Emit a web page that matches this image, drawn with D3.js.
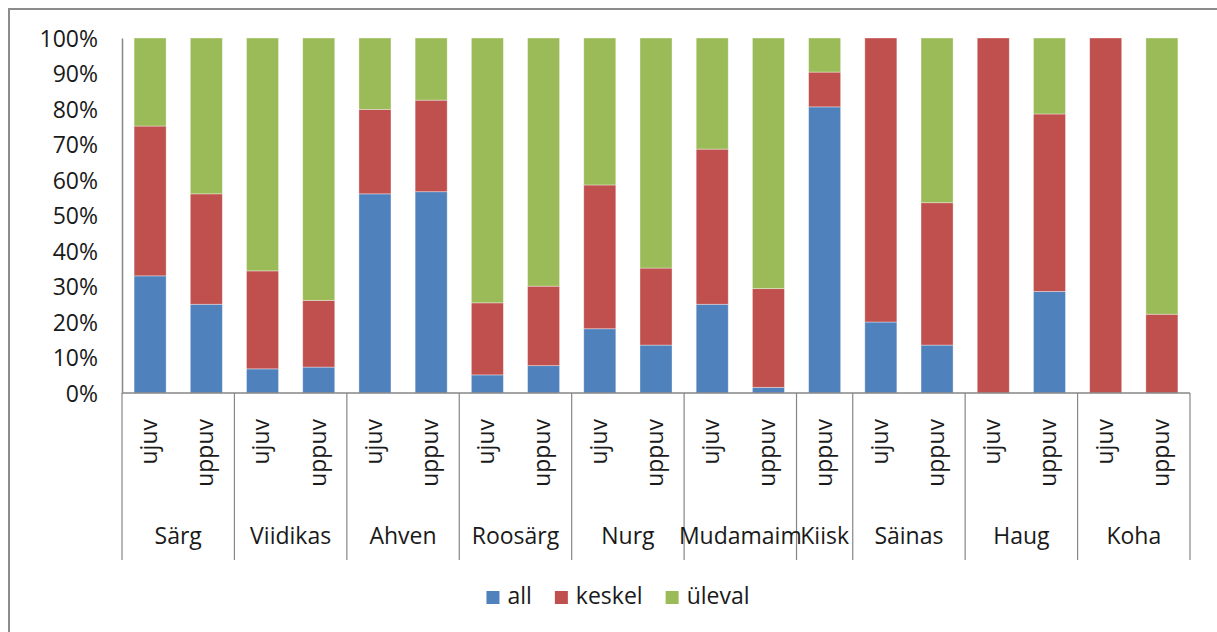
<!DOCTYPE html>
<html>
<head>
<meta charset="utf-8">
<script src="https://cdn.jsdelivr.net/npm/d3@7"></script>
<style>
  html, body { margin: 0; padding: 0; background: #fff; }
  svg { display: block; font-family: "Open Sans", "Noto Sans", sans-serif; }
</style>
</head>
<body>
<svg id="chart" width="1217" height="632"></svg>
<script>
// Species (groups) and the net type of each bar, in drawing order
const species = ["Särg", "Särg", "Viidikas", "Viidikas", "Ahven", "Ahven", "Roosärg", "Roosärg",
                 "Nurg", "Nurg", "Mudamaim", "Mudamaim", "Kiisk", "Säinas", "Säinas",
                 "Haug", "Haug", "Koha", "Koha"];
const netTypes = ["ujuv", "uppuv", "ujuv", "uppuv", "ujuv", "uppuv", "ujuv", "uppuv",
                  "ujuv", "uppuv", "ujuv", "uppuv", "uppuv", "ujuv", "uppuv",
                  "ujuv", "uppuv", "ujuv", "uppuv"];

// Share of catch by depth layer, percent
const seriesNames = ["all", "keskel", "üleval"];
const allValues    = [33.0, 25.0, 6.8, 7.3, 56.1, 56.7, 5.1, 7.7, 18.1, 13.5, 25.0, 1.6, 80.6, 20.0, 13.5, 0, 28.6, 0, 0];
const keskelValues = [42.2, 31.1, 27.6, 18.8, 23.8, 25.8, 20.3, 22.4, 40.5, 21.7, 43.7, 27.8, 9.8, 80.0, 40.1, 100, 50.0, 100, 22.2];
const ulevalValues = [24.8, 43.9, 65.6, 73.9, 20.1, 17.5, 74.6, 69.9, 41.4, 64.8, 31.3, 70.6, 9.6, 0, 46.4, 0, 21.4, 0, 77.8];

const yTicks = [0, 10, 20, 30, 40, 50, 60, 70, 80, 90, 100];
const colors = ["#4F81BD", "#C0504D", "#9BBB59"];

const svg = d3.select("#chart");
const FONT = 23;

// Outer chart frame
svg.append("path")
  .attr("d", "M9,640 V9 H1230")
  .attr("fill", "none")
  .attr("stroke", "#8c8c8c")
  .attr("stroke-width", 2);

const plotLeft = 122, plotRight = 1190, plotTop = 38, plotBottom = 393;

const rows = species.map((s, i) => ({
  key: i, species: s, net: netTypes[i],
  all: allValues[i], keskel: keskelValues[i], "üleval": ulevalValues[i]
}));

const x = d3.scaleBand()
  .domain(rows.map(d => d.key))
  .range([plotLeft, plotRight])
  .paddingInner(0.43)
  .paddingOuter(0.215);

const y = d3.scaleLinear().domain([0, 100]).range([plotBottom, plotTop]);

// Normalise each bar so it fills 100 %
const normRows = rows.map(d => {
  const t = d.all + d.keskel + d["üleval"];
  return { key: d.key, all: d.all / t * 100, keskel: d.keskel / t * 100, "üleval": d["üleval"] / t * 100 };
});
const stacked = d3.stack().keys(seriesNames)(normRows);

// Bars
svg.append("g").selectAll("g")
  .data(stacked)
  .join("g")
  .attr("fill", (d, i) => colors[i])
  .selectAll("rect")
  .data(d => d.filter(p => p[1] - p[0] > 0))
  .join("rect")
  .attr("x", p => x(p.data.key))
  .attr("width", x.bandwidth())
  .attr("y", p => y(p[1]))
  .attr("height", p => y(p[0]) - y(p[1]))
  .attr("stroke", "#ffffff")
  .attr("stroke-opacity", 0.45)
  .attr("stroke-width", 0.8);

// Y axis
const yAxis = svg.append("g")
  .attr("transform", `translate(${plotLeft},0)`)
  .call(d3.axisLeft(y).tickValues(yTicks).tickSize(0).tickPadding(24).tickFormat(v => v + "%"));
yAxis.select(".domain").attr("stroke", "#868686").attr("stroke-width", 1.5);
yAxis.selectAll("text")
  .attr("font-size", FONT)
  .attr("font-family", "Open Sans")
  .attr("fill", "#1a1a1a")
  .attr("dy", "0.36em");

// X axis baseline
svg.append("line")
  .attr("x1", plotLeft).attr("x2", plotRight)
  .attr("y1", plotBottom).attr("y2", plotBottom)
  .attr("stroke", "#868686").attr("stroke-width", 1.5);

// Group separators below the axis
const groups = [];
rows.forEach(d => {
  const g = groups.find(e => e.name === d.species);
  if (g) g.keys.push(d.key); else groups.push({ name: d.species, keys: [d.key] });
});
const step = x.step();
const slotStart = k => x(k) - x.paddingOuter() * step;
const edges = [plotLeft].concat(groups.map(g => slotStart(g.keys[g.keys.length - 1]) + step));
svg.append("g").selectAll("line")
  .data(edges)
  .join("line")
  .attr("x1", d => d).attr("x2", d => d)
  .attr("y1", plotBottom).attr("y2", 560)
  .attr("stroke", "#868686").attr("stroke-width", 1.2);

// Net type labels (rotated)
svg.append("g").selectAll("text")
  .data(rows)
  .join("text")
  .attr("transform", d => `translate(${x(d.key) + x.bandwidth() / 2},419) rotate(-90)`)
  .attr("text-anchor", "end")
  .attr("dy", "0.3em")
  .attr("font-size", FONT)
  .attr("fill", "#1a1a1a")
  .text(d => d.net);

// Species labels
svg.append("g").selectAll("text")
  .data(groups)
  .join("text")
  .attr("x", g => {
    const a = slotStart(g.keys[0]);
    const b = slotStart(g.keys[g.keys.length - 1]) + step;
    return (a + b) / 2;
  })
  .attr("y", 544)
  .attr("text-anchor", "middle")
  .attr("font-size", FONT)
  .attr("fill", "#1a1a1a")
  .text(g => g.name);

// Legend
const legend = svg.append("g");
const items = legend.selectAll("g")
  .data(seriesNames)
  .join("g");
items.append("rect")
  .attr("width", 13).attr("height", 13)
  .attr("y", -13)
  .attr("fill", (d, i) => colors[i]);
items.append("text")
  .attr("x", 21)
  .attr("font-size", FONT)
  .attr("fill", "#1a1a1a")
  .text(d => d);
let cursor = 0;
const offsets = [];
items.each(function (d, i) {
  offsets.push(cursor);
  const w = this.querySelector("text").getComputedTextLength();
  cursor += 21 + w + (i < seriesNames.length - 1 ? 23 : 0);
});
const legendStart = 618 - cursor / 2;
items.attr("transform", (d, i) => `translate(${legendStart + offsets[i]},604)`);
</script>
</body>
</html>
